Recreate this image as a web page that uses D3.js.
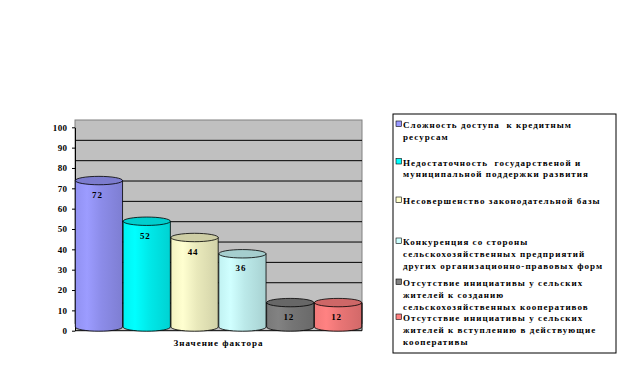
<!DOCTYPE html>
<html><head><meta charset="utf-8">
<script src="https://cdn.jsdelivr.net/npm/d3@7"></script>
<style>
html,body{margin:0;padding:0;background:#fff;}
svg text{font-family:"Liberation Serif","Times New Roman",serif;font-weight:bold;}
.leg{white-space:pre;}
</style></head>
<body>
<svg id="chart" width="629" height="385"></svg>
<script>
// ---- data ----
const categories = [
  "Сложность доступа  к кредитным\nресурсам",
  "Недостаточность  государственой и\nмуниципальной поддержки развития",
  "Несовершенство законодательной базы",
  "Конкуренция со стороны\nсельскохозяйственных предприятий\nдругих организационно-правовых форм",
  "Отсутствие инициативы у сельских\nжителей к созданию\nсельскохозяйственных кооперативов",
  "Отсутствие инициативы у сельских\nжителей к вступлению в действующие\nкооперативы"
];
const values = [72, 52, 44, 36, 12, 12];
const yTicks = [0, 10, 20, 30, 40, 50, 60, 70, 80, 90, 100];
const xAxisLabel = "Значение фактора";
const colors = ["#9999FF", "#00FFFF", "#FFFFCC", "#CCFFFF", "#808080", "#FF8080"];

// ---- layout ----
const svg = d3.select("#chart");
const X0 = 75, X1 = 362;
const y = d3.scaleLinear().domain([0, 100]).range([330.7, 127.3]);
const wallDy = -7.3, barDy = -3.7;
const x = d3.scaleBand().domain(d3.range(values.length)).range([X0, X1]).padding(0);
const bw = x.bandwidth();

const defs = svg.append("defs");
colors.forEach((c, i) => {
  const base = d3.color(c);
  const g = defs.append("linearGradient").attr("id", "g" + i).attr("x1", "0").attr("x2", "1").attr("y1", "0").attr("y2", "0");
  g.append("stop").attr("offset", "0").attr("stop-color", base.darker(0.15));
  g.append("stop").attr("offset", "0.25").attr("stop-color", base.brighter(0.05));
  g.append("stop").attr("offset", "0.55").attr("stop-color", base.darker(0.25));
  g.append("stop").attr("offset", "1").attr("stop-color", base.darker(0.55));
});

// wall
svg.append("rect").attr("x", X0).attr("y", y(100) + wallDy)
  .attr("width", X1 - X0).attr("height", y(0) - y(100))
  .attr("fill", "#C0C0C0").attr("stroke", "#808080").attr("stroke-width", 1);
// floor
svg.append("rect").attr("x", X0).attr("y", y(0) + wallDy)
  .attr("width", X1 - X0).attr("height", -wallDy)
  .attr("fill", "#C0C0C0");
// gridlines on wall
svg.append("g").selectAll("line").data(yTicks.filter(t => t > 0 && t < 100)).join("line")
  .attr("x1", X0).attr("x2", X1)
  .attr("y1", d => y(d) + wallDy).attr("y2", d => y(d) + wallDy)
  .attr("stroke", "#000").attr("stroke-width", 1);
// right wall edge
svg.append("line").attr("x1", X1).attr("x2", X1).attr("y1", y(10) + wallDy).attr("y2", y(0))
  .attr("stroke", "#000");

// y axis
const yAxis = d3.axisLeft(y).tickValues(yTicks).tickSize(3).tickPadding(4.5).tickSizeOuter(0);
const ya = svg.append("g").attr("transform", `translate(${X0},0)`).call(yAxis);
ya.select(".domain").attr("stroke", "#000");
ya.selectAll("text").attr("font-size", 9).attr("font-family", "Liberation Serif").attr("font-weight", "bold").attr("fill", "#000").attr("letter-spacing", 0.4);
// x axis line
svg.append("line").attr("x1", X0).attr("x2", X1).attr("y1", y(0)).attr("y2", y(0)).attr("stroke", "#000");

// cylinders
const ry = 4.2;
const bars = svg.append("g").selectAll("g").data(values).join("g");
bars.append("path")
  .attr("d", (d, i) => {
    const cx = x(i) + bw / 2, rx = bw / 2 - 0.3;
    const t = y(d) + barDy, b = y(0) + barDy;
    return `M${cx - rx},${t}L${cx - rx},${b}A${rx},${ry} 0 0 0 ${cx + rx},${b}L${cx + rx},${t}Z`;
  })
  .attr("fill", (d, i) => `url(#g${i})`).attr("stroke", "#000").attr("stroke-width", 0.8);
bars.append("ellipse")
  .attr("cx", (d, i) => x(i) + bw / 2).attr("cy", d => y(d) + barDy)
  .attr("rx", bw / 2 - 0.3).attr("ry", ry)
  .attr("fill", (d, i) => d3.color(colors[i]).darker(0.6)).attr("stroke", "#000").attr("stroke-width", 0.8);
bars.append("text")
  .attr("x", (d, i) => x(i) + bw / 2 - 1.5).attr("y", d => y(d) + barDy + 17.5)
  .attr("text-anchor", "middle").attr("font-size", 9).attr("letter-spacing", 0.8)
  .text(d => d);

// x axis label
svg.append("text").attr("x", (X0 + X1) / 2).attr("y", 346).attr("text-anchor", "middle")
  .attr("font-size", 9).attr("letter-spacing", 1.0).text(xAxisLabel);

// legend
svg.append("rect").attr("x", 393).attr("y", 114).attr("width", 223).attr("height", 239)
  .attr("fill", "#fff").attr("stroke", "#000").attr("stroke-width", 1);
const legendFirst = [128, 165.5, 204, 245, 286, 321];
const lineH = 11.8;
const lg = svg.append("g").selectAll("g").data(categories).join("g");
lg.append("rect").attr("x", 396).attr("y", (d, i) => legendFirst[i] - 7)
  .attr("width", 5.5).attr("height", 5.5)
  .attr("fill", (d, i) => colors[i]).attr("stroke", "#000").attr("stroke-width", 0.6);
lg.each(function (d, i) {
  const t = d3.select(this).append("text").attr("class", "leg").attr("font-size", 9).attr("letter-spacing", 1.05);
  d.split("\n").forEach((ln, k) => {
    t.append("tspan").attr("x", 403).attr("y", legendFirst[i] + k * lineH).text(ln);
  });
});
</script>
</body></html>
